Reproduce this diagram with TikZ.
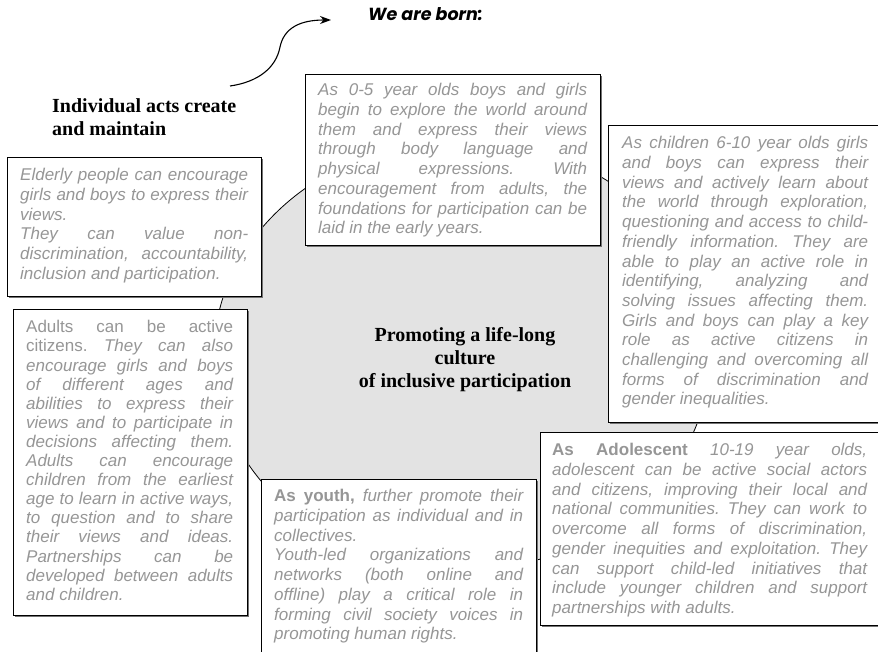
\documentclass[tikz,border=0pt]{standalone}
\usepackage{fontspec}
\newfontfamily\sansf{Liberation Sans}
\newfontfamily\serff{Liberation Serif}
\newfontfamily\geof{Poppins}
\usetikzlibrary{shapes.geometric,shadows,arrows.meta}
\definecolor{cardgray}{RGB}{150,150,150}
\definecolor{blobfill}{RGB}{227,227,227}
\frenchspacing
% one justified line of a card, stretched to the card's text width
\newcommand\J[1]{\makebox[\jw][s]{#1}}
\def\jw{200pt}
\begin{document}
\begin{tikzpicture}[x=1pt,y=-1pt,
  jw/.code={\gdef\jw{#1pt}},
  card/.style={rectangle, draw=black, line width=0.8pt, fill=white, inner sep=0pt,
    anchor=north west,
    drop shadow={shadow xshift=1.6pt, shadow yshift=-1.6pt, fill=black!55, opacity=1}},
  cardtext/.style={anchor=north west, inner sep=0pt, align=left, text=cardgray,
    font=\sansf\fontsize{17}{19.7}\selectfont\itshape\frenchspacing},
  heading/.style={inner sep=0pt, text=black, font=\serff\bfseries\fontsize{20}{23}\selectfont}]
\useasboundingbox (0,0) rectangle (878,652);

% central shaded ellipse and its title
\node[ellipse, draw=black, line width=0.8pt, fill=blobfill, inner sep=0pt,
      minimum width=496pt, minimum height=430pt] (blob) at (462,355) {};
\node[heading, align=center] (core) at (465,360)
  {Promoting a life-long\\culture\\of inclusive participation};

% headings and the curved arrow
\node[heading, anchor=north west, align=left] (acts) at (52,98)
  {Individual acts create\\and maintain};
\node[anchor=base west, inner sep=0pt, font=\geof\bfseries\itshape\fontsize{17.5}{20}\selectfont]
  (born) at (368,21) {We are born:};
\coordinate (arrS) at (230,86);
\coordinate (arrE) at (331,20);
\draw[line width=1.1pt, -{Stealth[length=11pt,width=8pt]}]
  (arrS) .. controls (258,82) and (276,68) .. (280,47)
         .. controls (284,28) and (300,20) .. (arrE);

% cards
\node[card, minimum width=295pt, minimum height=171pt] (early) at (305,74) {};
\node[cardtext, jw=269] (earlyT) at (318,83.3) {%
\J{As 0-5 year olds boys and girls}\\
\J{begin to explore the world around}\\
\J{them and express their views}\\
\J{through body language and}\\
\J{physical expressions. With}\\
\J{encouragement from adults, the}\\
\J{foundations for participation can be}\\
laid in the early years.};

\node[card, minimum width=275pt, minimum height=297pt] (child) at (608,125) {};
\node[cardtext, jw=246] (childT) at (622,136.3) {%
\J{As children 6-10 year olds girls}\\
\J{and boys can express their}\\
\J{views and actively learn about}\\
\J{the world through exploration,}\\
\J{questioning and access to child-}\\
\J{friendly information. They are}\\
\J{able to play an active role in}\\
\J{identifying, analyzing and}\\
\J{solving issues affecting them.}\\
\J{Girls and boys can play a key}\\
\J{role as active citizens in}\\
\J{challenging and overcoming all}\\
\J{forms of discrimination and}\\
gender inequalities.};

\node[card, minimum width=254pt, minimum height=139pt] (elder) at (7,157) {};
\node[cardtext, jw=228] (elderT) at (20,168.3) {%
\J{Elderly people can encourage}\\
\J{girls and boys to express their}\\
views.\\
\J{They can value non-}\\
\J{discrimination, accountability,}\\
inclusion and participation.};

\node[card, minimum width=234pt, minimum height=306pt] (adult) at (13,309) {};
\node[cardtext, jw=207, font=\sansf\fontsize{17}{19.1}\selectfont\itshape\frenchspacing] (adultT) at (26,320.3) {%
\J{\upshape Adults can be active}\\
\J{{\upshape citizens.} They can also}\\
\J{encourage girls and boys}\\
\J{of different ages and}\\
\J{abilities to express their}\\
\J{views and to participate in}\\
\J{decisions affecting them.}\\
\J{Adults can encourage}\\
\J{children from the earliest}\\
\J{age to learn in active ways,}\\
\J{to question and to share}\\
\J{their views and ideas.}\\
\J{Partnerships can be}\\
\J{developed between adults}\\
and children.};

\node[card, minimum width=275pt, minimum height=185pt] (youth) at (261,479) {};
\node[cardtext, jw=249] (youthT) at (274,489.3) {%
\J{{\upshape\bfseries As youth,} further promote their}\\
\J{participation as individual and in}\\
collectives.\\
\J{Youth-led organizations and}\\
\J{networks (both online and}\\
\J{offline) play a critical role in}\\
\J{forming civil society voices in}\\
promoting human rights.};

\node[card, minimum width=345pt, minimum height=193pt] (teen) at (540,432) {};
\node[cardtext, jw=315] (teenT) at (552,443.3) {%
\J{{\upshape\bfseries As Adolescent} 10-19 year olds,}\\
\J{adolescent can be active social actors}\\
\J{and citizens, improving their local and}\\
\J{national communities. They can work to}\\
\J{overcome all forms of discrimination,}\\
\J{gender inequities and exploitation. They}\\
\J{can support child-led initiatives that}\\
\J{include younger children and support}\\
partnerships with adults.};
\end{tikzpicture}
\end{document}
